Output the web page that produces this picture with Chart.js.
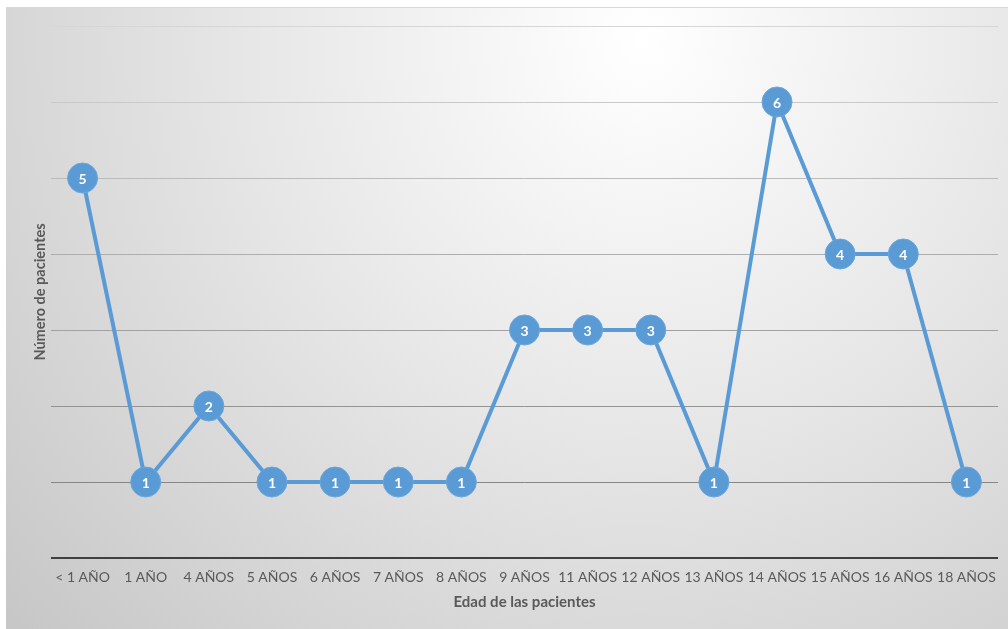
<!DOCTYPE html>
<html>
<head>
<meta charset="utf-8">
<script src="https://cdn.jsdelivr.net/npm/chart.js@4"></script>
<style>
  html, body { margin: 0; padding: 0; background: #ffffff; }
  #wrap { width: 1008px; height: 629px; position: relative; }
</style>
</head>
<body>
<div id="wrap"><canvas id="mainChart"></canvas></div>
<script>
// Datos del gráfico
const edades = ['< 1 AÑO', '1 AÑO', '4 AÑOS', '5 AÑOS', '6 AÑOS', '7 AÑOS', '8 AÑOS', '9 AÑOS',
                '11 AÑOS', '12 AÑOS', '13 AÑOS', '14 AÑOS', '15 AÑOS', '16 AÑOS', '18 AÑOS'];
const pacientes = [5, 1, 2, 1, 1, 1, 1, 3, 3, 3, 1, 6, 4, 4, 1];
const yMax = 7;

const azul = '#5b9bd5';
const gris = '#595959';

// fondo con degradado radial (estilo Excel)
const fondoPlugin = {
    id: 'fondo',
    beforeDraw(chart) {
        const c = chart.ctx;
        c.save();
        c.fillStyle = '#ffffff';
        c.fillRect(0, 0, chart.width, chart.height);
        const g = c.createRadialGradient(640, 40, 0, 640, 40, 900);
        g.addColorStop(0, '#ffffff');
        g.addColorStop(0.45, '#e6e6e6');
        g.addColorStop(1, '#c4c4c4');
        c.fillStyle = g;
        c.fillRect(6, 7, chart.width - 6, chart.height - 7);
        c.strokeStyle = '#d8d8d8';
        c.lineWidth = 1;
        c.beginPath();
        c.moveTo(6, 7.5);
        c.lineTo(chart.width, 7.5);
        c.stroke();
        c.restore();
    }
};

// etiquetas dentro de los puntos
const etiquetasPlugin = {
    id: 'etiquetas',
    afterDatasetsDraw(chart) {
        const c = chart.ctx;
        const meta = chart.getDatasetMeta(0);
        c.save();
        c.fillStyle = '#ffffff';
        c.font = "bold 14px Lato, 'Open Sans', sans-serif";
        c.textAlign = 'center';
        c.textBaseline = 'middle';
        meta.data.forEach((pt, i) => {
            c.fillText(String(pacientes[i]), pt.x, pt.y + 1);
        });
        c.restore();
    }
};

function colorGrid(ctx) {
    const v = ctx.tick ? ctx.tick.value : 0;
    if (v === 0) return '#404040';
    const t = (v - 1) / (yMax - 1);
    const c = Math.round(0x86 + t * (0xd6 - 0x86));
    return `rgb(${c},${c},${c})`;
}

const ctx = document.getElementById('mainChart').getContext('2d');
const mainChart = new Chart(ctx, {
    type: 'line',
    data: {
        labels: edades,
        datasets: [{
            data: pacientes,
            borderColor: azul,
            backgroundColor: azul,
            borderWidth: 4,
            pointRadius: 15,
            pointHoverRadius: 15,
            pointBackgroundColor: azul,
            pointBorderColor: '#6aa6dc',
            pointBorderWidth: 1,
            tension: 0
        }]
    },
    options: {
        responsive: true,
        maintainAspectRatio: false,
        animation: false,
        layout: { autoPadding: false, padding: { top: 26, right: 10, left: 0, bottom: 0 } },
        plugins: {
            legend: { display: false },
            tooltip: { enabled: false }
        },
        scales: {
            x: {
                offset: true,
                grid: { display: false, drawTicks: false },
                border: { display: false },
                ticks: {
                    color: gris,
                    padding: 11,
                    maxRotation: 0,
                    autoSkip: false,
                    font: { family: "Lato, 'Open Sans', sans-serif", size: 14 }
                },
                title: {
                    display: true,
                    text: 'Edad de las pacientes',
                    color: gris,
                    padding: { top: 18, bottom: 18 },
                    font: { family: "Lato, 'Open Sans', sans-serif", size: 15, weight: 'bold' }
                },
                afterFit(scale) {
                    scale.height = 71;
                    scale.paddingLeft = 0;
                    scale.paddingRight = 0;
                }
            },
            y: {
                min: 0,
                max: yMax,
                ticks: { display: false, stepSize: 1 },
                grid: {
                    drawTicks: false,
                    color: colorGrid,
                    lineWidth: c => (c.tick && c.tick.value === 0 ? 2 : 1)
                },
                border: { display: false },
                title: {
                    display: true,
                    text: 'Número de pacientes',
                    color: gris,
                    padding: { top: 32, bottom: 0 },
                    font: { family: "Lato, 'Open Sans', sans-serif", size: 14.5, weight: 'bold' }
                },
                afterFit(scale) { scale.width = 51; }
            }
        }
    },
    plugins: [fondoPlugin, etiquetasPlugin]
});
</script>
</body>
</html>
